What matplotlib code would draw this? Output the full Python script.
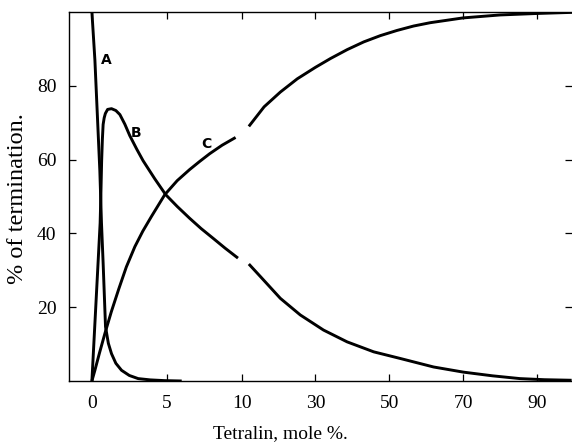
import numpy as np
import matplotlib
matplotlib.use('Agg')
import matplotlib.pyplot as plt

# curve A (falls from 100 near x=0)
a_x = [0, 0.2, 0.53, 0.64, 0.75, 0.91, 1.1, 1.31, 1.6, 1.98, 2.5, 3.09, 3.9, 4.87, 6.0]
a_y = [100, 87, 57, 42.8, 32, 14.7, 10.2, 7.4, 4.8, 2.9, 1.5, 0.65, 0.3, 0.1, 0]

# curve B, two pieces (gap just past 10)
b1_x = [0, 0.27, 0.55, 0.6, 0.65, 0.7, 0.75, 0.82, 0.9, 1.05, 1.31, 1.6, 1.87, 2.2, 2.53,
        3.0, 3.42, 4.2, 4.93, 5.7, 6.53, 7.3, 8.09, 8.9, 9.76]
b1_y = [0, 21, 42.8, 50.5, 59.5, 65.5, 69.5, 71.3, 72.5, 73.6, 73.8, 73.3, 72.2, 69.6, 66.5,
        62.8, 59.7, 54.8, 50.5, 47.3, 44.1, 41.3, 38.7, 36, 33.3]
b2_x = [11.97, 15.1, 20.5, 25.9, 32.2, 38.6, 45.8, 53, 62, 70.1, 78, 85.4, 92, 99.4]
b2_y = [31.7, 28.3, 22.4, 17.9, 13.8, 10.6, 7.9, 6.1, 3.8, 2.4, 1.4, 0.65, 0.35, 0.2]

# curve C, two pieces
c1_x = [0, 0.2, 0.5, 0.87, 1.3, 1.8, 2.3, 2.87, 3.4, 3.98, 4.87, 5.7, 6.53, 7.2, 7.87, 8.7, 9.6]
c1_y = [0, 2.9, 7.5, 12.9, 18.8, 25.0, 30.9, 36.4, 40.6, 44.6, 50.5, 54.3, 57.3, 59.5, 61.6, 63.9, 66.0]
c2_x = [11.97, 16.1, 20.5, 25.1, 30, 34.1, 38.6, 43.1, 47.6, 52.1, 56.6, 61.1, 70, 80, 90, 99.5]
c2_y = [69, 74.3, 78.3, 81.9, 85.0, 87.4, 89.8, 91.9, 93.6, 95, 96.2, 97.1, 98.4, 99.2, 99.6, 99.9]

x_ticks = [0, 5, 10, 30, 50, 70, 90]
y_ticks = [20, 40, 60, 80]

# axis is linear up to 10, then compressed
k = 3.7 / 15.0
def fwd(x):
    x = np.asarray(x, dtype=float)
    return np.where(x <= 10, x, 10 + (x - 10) * k)
def inv(u):
    u = np.asarray(u, dtype=float)
    return np.where(u <= 10, u, 10 + (u - 10) / k)

serif = ['Liberation Serif', 'DejaVu Serif']

fig = plt.figure(figsize=(5.72, 4.44), dpi=100)
ax = fig.add_axes([69/572, 63/444, 503/572, 369/444])
ax.set_xscale('function', functions=(fwd, inv))

lw = 2.1
for xs, ys in [(a_x, a_y), (b1_x, b1_y), (b2_x, b2_y), (c1_x, c1_y), (c2_x, c2_y)]:
    ax.plot(xs, ys, color='black', lw=lw, solid_capstyle='butt', solid_joinstyle='round')

ax.set_xlim(-1.53, 99.5)
ax.set_ylim(0, 100)

ax.set_xticks(x_ticks)
ax.set_xticklabels([str(t) for t in x_ticks])
ax.set_yticks(y_ticks)
ax.set_yticklabels([str(t) for t in y_ticks])
ax.minorticks_off()
ax.tick_params(direction='in', length=5, width=0.9, top=True, right=True,
               labelsize=14, color='black')
ax.tick_params(axis='x', pad=10)
ax.tick_params(axis='y', pad=9)
for lab in ax.get_xticklabels() + ax.get_yticklabels():
    lab.set_family(serif)

ax.spines['right'].set_visible(False)
for s in ['left', 'bottom', 'top']:
    ax.spines[s].set_linewidth(1.0)

# curve letters
ax.text(0.93, 87.1, 'A', ha='center', va='center', fontsize=10, fontweight='bold')
ax.text(2.95, 67.3, 'B', ha='center', va='center', fontsize=10, fontweight='bold')
ax.text(7.67, 64.3, 'C', ha='center', va='center', fontsize=10, fontweight='bold')

fig.text(280/572, 1 - 434/444, 'Tetralin, mole %.', ha='center', va='center',
         fontsize=14, family=serif)
fig.text(18/572, 1 - 199/444, '% of termination.', ha='center', va='center',
         rotation=90, fontsize=17.5, family=serif)

fig.savefig('out.png', dpi=100)
